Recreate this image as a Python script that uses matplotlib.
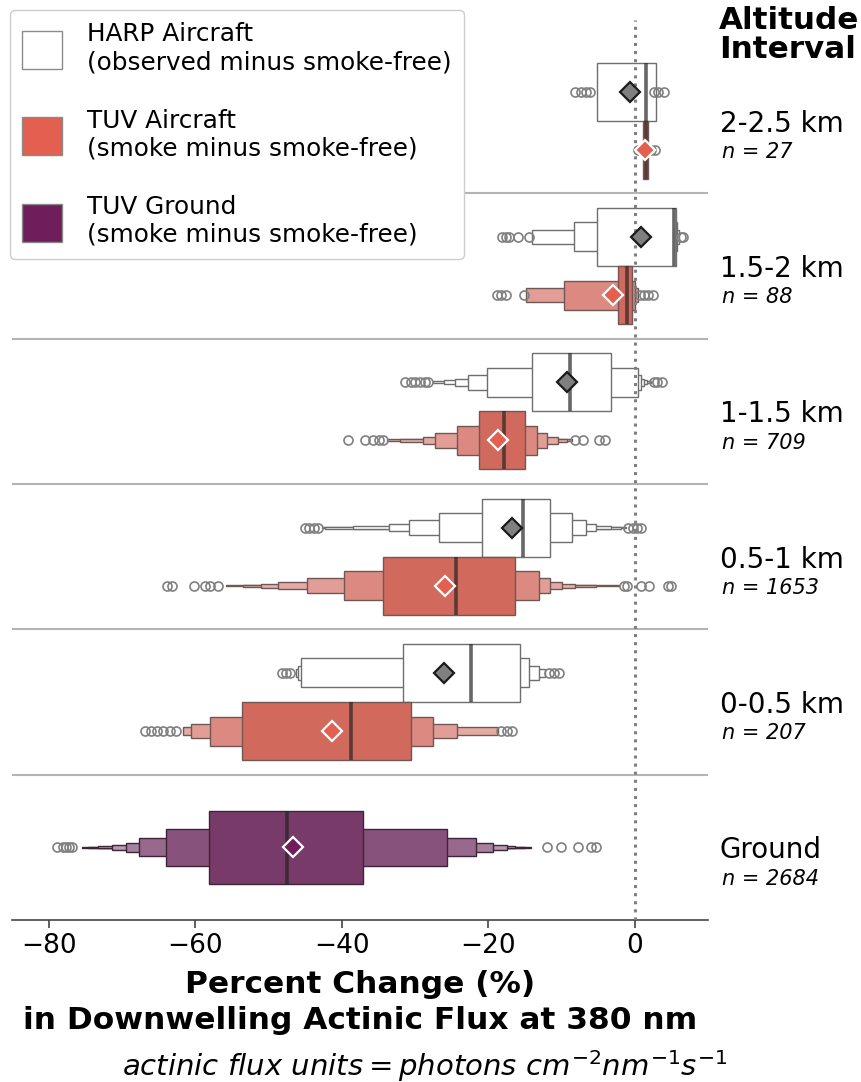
import matplotlib
matplotlib.use("Agg")
import matplotlib.pyplot as plt
import matplotlib.transforms as mtransforms
from matplotlib.patches import Rectangle, Patch
import matplotlib.colors as mcolors
import numpy as np

# ---------------- data ----------------
rows = ["2-2.5 km", "1.5-2 km", "1-1.5 km", "0.5-1 km", "0-0.5 km", "Ground"]
n_counts = [27, 88, 709, 1653, 207, 2684]

# letter-value box edges, innermost (quartiles) first
harp_lower = [[-5.1],
              [-5.1, -8.3, -14.0],
              [-14.0, -20.1, -22.7, -24.5, -26.1, -27.5],
              [-20.8, -26.7, -30.8, -33.5, -38.4, -42.3, -42.7],
              [-31.6, -45.6, -46.0, -46.3]]
harp_upper = [[2.9],
              [5.6, 5.8, 6.0],
              [-3.2, 0.5, 0.8, 1.2, 1.7, 2.2],
              [-11.5, -8.5, -6.7, -5.3, -3.3, -1.9, -1.2],
              [-15.6, -14.4, -13.0, -12.2]]
harp_median = [1.5, 5.3, -8.8, -15.3, -22.3]
harp_mean = [-0.7, 0.8, -9.3, -16.7, -26.1]
harp_outliers = [[-8.1, -7.4, -6.7, -6.1, 2.6, 3.2, 4.0],
                 [-18.1, -17.6, -17.2, -15.9, -14.5, 6.3, 6.6],
                 [-31.3, -30.6, -30.0, -29.3, -28.6, -28.2, 2.6, 3.1, 3.7],
                 [-45.0, -44.4, -43.8, -43.2, -0.9, -0.3, 0.3, 0.9],
                 [-48.2, -47.6, -47.0, -11.7, -11.0, -10.4]]

tuv_lower = [[1.1],
             [-2.3, -9.6, -14.8],
             [-21.3, -24.2, -27.2, -28.9, -32.0, -33.8],
             [-34.4, -39.7, -44.7, -48.7, -51.0, -53.5, -55.8],
             [-53.6, -58.0, -60.5, -61.7]]
tuv_upper = [[1.8],
             [-0.4, 0.0, 0.4],
             [-15.0, -13.4, -12.0, -10.5, -9.2, -8.5],
             [-16.4, -13.1, -11.6, -9.9, -8.1, -5.3, -2.2],
             [-30.5, -27.5, -24.2, -18.6]]
tuv_median = [1.5, -1.1, -17.9, -24.4, -38.7]
tuv_mean = [1.4, -3.0, -18.6, -25.9, -41.3]
tuv_outliers = [[0.4, 0.9, 2.2, 2.7],
                [-18.8, -18.2, -17.6, -15.1, 0.7, 1.2, 1.8, 2.5],
                [-39.2, -36.8, -35.7, -34.9, -34.3, -8.2, -7.0, -4.9, -4.1],
                [-63.9, -63.1, -60.2, -58.6, -58.0, -56.9, -1.5, -1.0, 0.8, 1.9, 4.5, 4.9],
                [-66.9, -66.0, -65.2, -64.4, -63.5, -62.6, -18.2, -17.5, -16.8]]

ground_lower = [-58.1, -64.0, -67.7, -69.4, -71.4, -73.2, -74.6, -75.5]
ground_upper = [-37.1, -25.6, -21.6, -19.4, -17.5, -16.4, -15.0, -14.1]
ground_median = -47.5
ground_mean = -46.6
ground_outliers = [-78.8, -78.1, -77.6, -77.2, -76.8, -12.0, -10.0, -7.7, -6.0, -5.3]

legend_labels = ["HARP Aircraft\n(observed minus smoke-free)",
                 "TUV Aircraft\n(smoke minus smoke-free)",
                 "TUV Ground\n(smoke minus smoke-free)"]

# colours
harp_color = "#ffffff"
tuv_color = "#d2695d"
ground_color = "#773a69"
legend_colors = ["#ffffff", "#e35f4f", "#6f1d5b"]


def box_colors(base, k, fade):
    """Fade from the base colour towards white for the outer boxes"""
    base = np.array(mcolors.to_rgb(base))
    return [base + fade(i, k) * (1 - base) for i in range(k)]


def fade_tuv(i, k):
    return 0.55 * (1 - 0.6 ** i)


def fade_ground(i, k):
    return 0.12 * i


def draw_boxen(ax, y, lows, highs, med, mean, outs, base, width,
               edge, mean_face, mean_edge, fade=fade_tuv):
    k = len(lows)
    cols = box_colors(base, k, fade)
    # outer boxes first so the inner ones sit on top
    for i in reversed(range(k)):
        h = width * 0.5 ** i
        ax.add_patch(Rectangle((lows[i], y - h / 2), highs[i] - lows[i], h,
                               facecolor=cols[i], edgecolor=edge, lw=1.0,
                               zorder=3 + (k - i) * 0.01))
    ax.plot([med, med], [y - width / 2, y + width / 2], color="0.15",
            alpha=0.7, lw=2.6, zorder=4, solid_capstyle="butt")
    ax.plot(outs, [y] * len(outs), "o", mfc="none", mec="#808080", ms=6.5,
            mew=1.2, zorder=4)
    ax.plot([mean], [y], "D", mfc=mean_face, mec=mean_edge, ms=10, mew=1.6,
            zorder=6)


fig = plt.figure(figsize=(8.61, 10.82), dpi=100)
ax = fig.add_axes([12 / 861, 1 - 920 / 1082, 696 / 861, 900 / 1082])

for i in range(5):
    draw_boxen(ax, i - 0.2, harp_lower[i], harp_upper[i], harp_median[i],
               harp_mean[i], harp_outliers[i], harp_color, 0.4,
               "#6e6e6e", "#7f7f7f", "#1a1a1a")
    draw_boxen(ax, i + 0.2, tuv_lower[i], tuv_upper[i], tuv_median[i],
               tuv_mean[i], tuv_outliers[i], tuv_color, 0.4,
               "#6e5855", legend_colors[1], "white")
draw_boxen(ax, 5, ground_lower, ground_upper, ground_median, ground_mean,
           ground_outliers, ground_color, 0.5, "#3d2438",
           legend_colors[2], "white", fade=fade_ground)

# row separators and zero line
for i in range(5):
    ax.axhline(i + 0.5, color="#b4b4b4", lw=1.5, zorder=1)
ax.axvline(0, color="#808080", ls=":", lw=2.2, zorder=5)

ax.set_xlim(-85, 10)
ax.set_ylim(5.5, -0.5 - 28 / 145.3)
ax.set_yticks([])
for s in ["left", "right", "top"]:
    ax.spines[s].set_visible(False)
ax.spines["bottom"].set_color("#444444")
ax.spines["bottom"].set_linewidth(1.2)
ax.set_xticks([-80, -60, -40, -20, 0])
ax.tick_params(axis="x", labelsize=19, length=6, width=1.2, color="#444444")
ax.set_xlabel("Percent Change (%)\nin Downwelling Actinic Flux at 380 nm",
              fontsize=22.5, fontweight="bold", labelpad=8, linespacing=1.3)

# right-hand labels
trans = mtransforms.blended_transform_factory(ax.transAxes, ax.transData)
for i, (r, n) in enumerate(zip(rows, n_counts)):
    ax.text(1.017, i + 0.02, r, transform=trans, fontsize=20,
            ha="left", va="center")
    ax.text(1.02, i + 0.215, "n = %d" % n, transform=trans, fontsize=15,
            style="italic", ha="left", va="center")
fig.text(719 / 861, 1 - 6 / 1082, "Altitude\nInterval", fontsize=22.3,
         fontweight="bold", ha="left", va="top", linespacing=0.98)

fig.text(425 / 861, 1 - 1066 / 1082,
         r"$actinic\ flux\ units = photons\ cm^{-2}nm^{-1}s^{-1}$",
         fontsize=21, ha="center", va="center")

# legend
handles = [Patch(facecolor=c, edgecolor="#8a8a8a") for c in legend_colors]
fig.legend(handles, legend_labels, loc="upper left",
           bbox_to_anchor=(10 / 861, 1 - 10 / 1082), borderaxespad=0,
           fontsize=17.8, handlelength=1.6, handleheight=2.0,
           labelspacing=1.4, handletextpad=1.0, borderpad=0.5,
           edgecolor="#cccccc", framealpha=1)

fig.savefig("out.png", dpi=100)
